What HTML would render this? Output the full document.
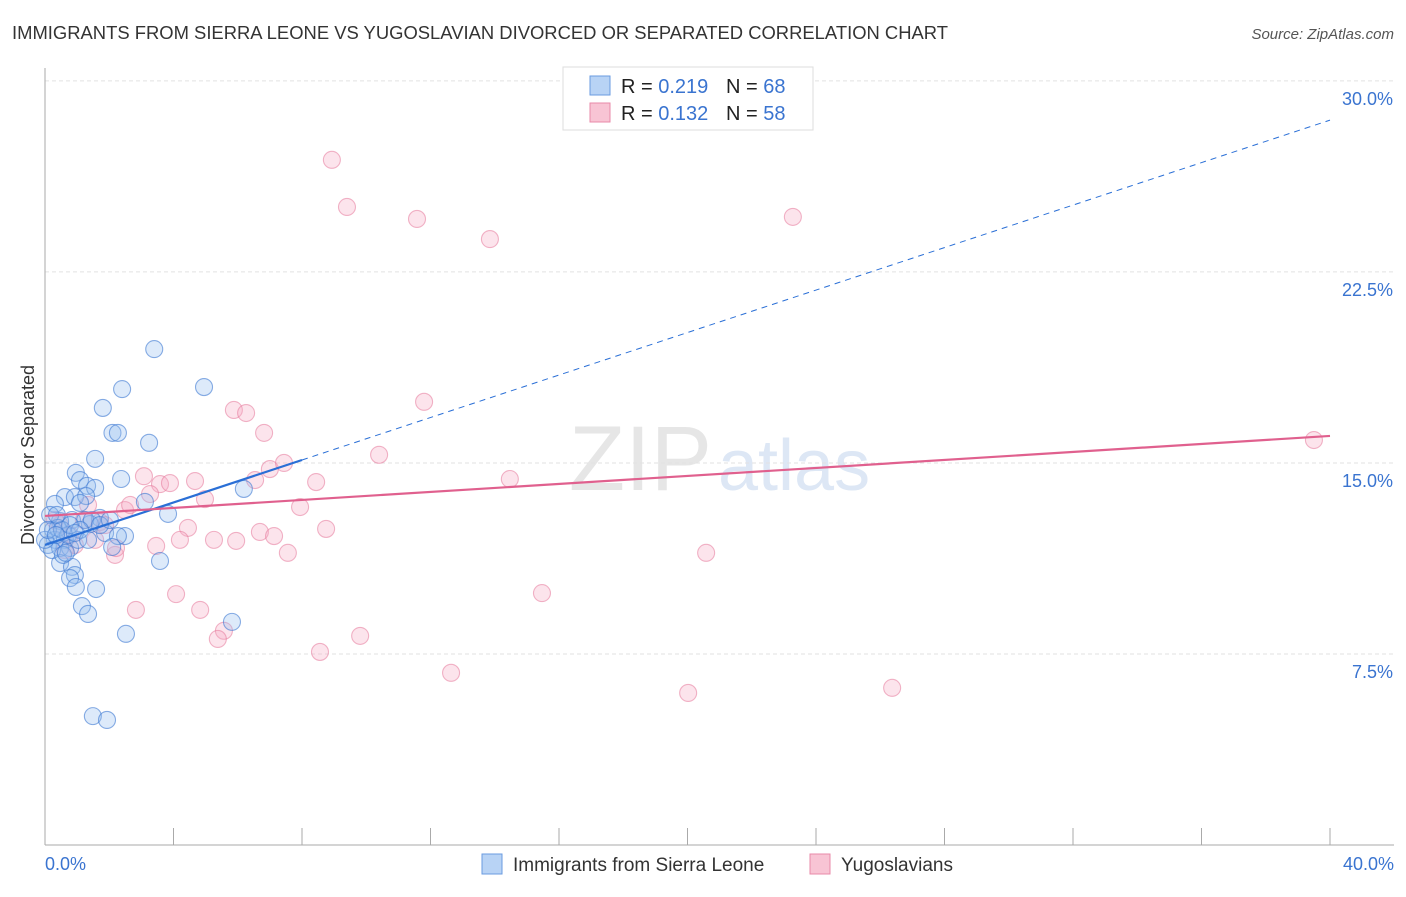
<!DOCTYPE html>
<html><head><meta charset="utf-8"><style>
body{margin:0;background:#fff;font-family:"Liberation Sans",sans-serif;}
svg text{font-family:"Liberation Sans",sans-serif;}
</style></head><body>
<svg width="1406" height="892" xmlns="http://www.w3.org/2000/svg">
<text x="12" y="39" font-size="18" fill="#333" textLength="936" lengthAdjust="spacingAndGlyphs">IMMIGRANTS FROM SIERRA LEONE VS YUGOSLAVIAN DIVORCED OR SEPARATED CORRELATION CHART</text>
<text x="1394" y="39" font-size="15" fill="#555" font-style="italic" text-anchor="end">Source: ZipAtlas.com</text>
<text x="712" y="490" font-size="92" fill="#e6e6e6" text-anchor="end" font-family="Liberation Serif">ZIP</text>
<text x="718" y="490" font-size="72" fill="#dde7f5">atlas</text>
<g id="grid"></g>
<g id="axes"></g>
<g id="marks"></g>
<text transform="translate(34,455) rotate(-90)" font-size="18" fill="#333" text-anchor="middle">Divorced or Separated</text>
<g>
<rect x="563" y="67" width="250" height="63" fill="#fff" stroke="#ddd"/>
<rect x="590" y="76" width="20" height="19" fill="#b8d3f5" stroke="#6a9be0"/>
<rect x="590" y="103" width="20" height="19" fill="#f8c4d4" stroke="#e88aa8"/>
<text x="621" y="93" font-size="20" fill="#222">R = <tspan fill="#3a74d0">0.219</tspan></text>
<text x="726" y="93" font-size="20" fill="#222">N = <tspan fill="#3a74d0">68</tspan></text>
<text x="621" y="120" font-size="20" fill="#222">R = <tspan fill="#3a74d0">0.132</tspan></text>
<text x="726" y="120" font-size="20" fill="#222">N = <tspan fill="#3a74d0">58</tspan></text>
</g>
<g>
<rect x="482" y="854" width="20" height="20" fill="#b8d3f5" stroke="#6a9be0"/>
<text x="513" y="871" font-size="19" fill="#333">Immigrants from Sierra Leone</text>
<rect x="810" y="854" width="20" height="20" fill="#f8c4d4" stroke="#e88aa8"/>
<text x="841" y="871" font-size="19" fill="#333">Yugoslavians</text>
</g>
</svg>
<script>
const yTicks=[7.5,15,22.5,30];
const yTickLabels=["7.5%","15.0%","22.5%","30.0%"];
const xEndLabels=["0.0%","40.0%"];
const blueX=[3.4,2.4,4.95,1.8,2.1,2.27,3.24,1.56,0.96,1.09,2.37,1.31,1.56,6.19,0.62,0.93,0.31,1.28,3.11,3.83,1.09,1.71,0.84,0.47,1.40,1.87,2.49,2.27,0.25,0.31,0.62,0.09,0.47,0.78,2.09,3.58,0.47,0.84,0.93,0.78,0.96,1.59,1.15,1.34,2.52,5.82,1.49,1.93,0.16,0.40,0.72,1.03,0.22,0.56,0.0,1.25,1.46,0.09,0.53,0.78,1.71,1.09,0.65,0.34,0.93,2.02,0.37,1.34];
const blueY=[19.47,17.90,17.98,17.16,16.18,16.18,15.79,15.16,14.61,14.33,14.37,14.10,14.02,13.98,13.66,13.66,13.39,13.70,13.47,13.0,13.43,12.84,12.76,12.72,12.60,12.25,12.13,12.13,12.37,11.98,11.98,11.78,11.66,11.66,11.70,11.15,11.07,10.92,10.60,10.48,10.13,10.05,9.38,9.07,8.29,8.76,5.06,4.91,12.96,12.45,12.17,11.98,11.58,11.39,11.98,12.76,12.76,12.37,12.37,12.56,12.56,12.37,11.47,12.17,12.25,12.76,12.96,11.98];
const pinkX=[8.93,9.40,11.58,13.85,23.28,11.80,5.88,6.26,6.82,39.5,10.4,3.08,7.0,7.44,3.58,3.89,4.67,8.44,14.47,3.27,4.98,6.54,7.94,1.34,2.49,2.65,1.21,1.71,4.45,8.75,6.69,7.13,3.46,4.20,5.26,5.95,7.56,2.18,2.21,20.58,4.08,15.47,2.83,4.83,5.57,5.38,9.81,8.56,12.64,20.02,26.37,0.47,0.78,0.31,0.93,0.62,1.56,1.87];
const pinkY=[26.9,25.05,24.58,23.79,24.66,17.4,17.08,16.96,16.18,15.90,15.32,14.48,14.76,15.0,14.17,14.21,14.29,14.25,14.37,13.78,13.58,14.33,13.27,13.35,13.15,13.35,12.76,12.68,12.45,12.41,12.29,12.13,11.74,11.98,11.98,11.94,11.47,11.39,11.66,11.47,9.85,9.89,9.23,9.23,8.41,8.09,8.21,7.58,6.76,5.97,6.17,12.56,12.17,12.76,11.78,11.58,11.98,12.56];
const blueTrend=[11.78,28.46];
const pinkTrend=[12.92,16.06];
const NS="http://www.w3.org/2000/svg";
const X=v=>45+v*32.125, Y=v=>845-v*25.47;
function mk(t,a,p){const e=document.createElementNS(NS,t);for(const k in a)e.setAttribute(k,a[k]);document.getElementById(p).appendChild(e);return e;}
yTicks.forEach((t,i)=>{
 const g=mk('line',{x1:45,x2:1394,y1:Y(t),y2:Y(t),stroke:'#e2e2e2','stroke-dasharray':'4,3'},'grid');
 
 
 const l=mk('text',{x:1393,y:Y(t)+24,'font-size':18,fill:'#3a74d0','text-anchor':'end'},'axes');
 l.textContent=yTickLabels[i];
 
 
});
const ya=mk('line',{x1:45,x2:45,y1:68,y2:845,stroke:'#aaa'},'axes');


const xa=mk('line',{x1:45,x2:1394,y1:845,y2:845,stroke:'#aaa'},'axes');


for(let i=1;i<=10;i++){
 const t=mk('line',{x1:X(i*4),x2:X(i*4),y1:828,y2:845,stroke:'#aaa'},'axes');
 
 
}
[[0,'start',45],[40,'end',1394]].forEach((d,i)=>{
 const l=mk('text',{x:d[2],y:870,'font-size':18,fill:'#3a74d0','text-anchor':d[1]},'axes');
 l.textContent=xEndLabels[i];
 
 
});
pinkX.forEach((x,i)=>{
 const c=mk('circle',{cx:X(x),cy:Y(pinkY[i]),r:8.5,fill:'rgba(246,170,195,0.32)',stroke:'rgba(230,120,155,0.55)','stroke-width':1.1},'marks');
 
 
});
blueX.forEach((x,i)=>{
 const c=mk('circle',{cx:X(x),cy:Y(blueY[i]),r:8.5,fill:'rgba(150,190,240,0.32)',stroke:'rgba(60,120,210,0.6)','stroke-width':1.1},'marks');
 
 
});
const bAt=v=>blueTrend[0]+(blueTrend[1]-blueTrend[0])*v/40;
const bs=mk('line',{x1:X(0),y1:Y(bAt(0)),x2:X(8),y2:Y(bAt(8)),stroke:'#2a6fd6','stroke-width':2.2},'marks');


const bd=mk('line',{x1:X(8),y1:Y(bAt(8)),x2:X(40),y2:Y(bAt(40)),stroke:'#2a6fd6','stroke-width':1,'stroke-dasharray':'6,5'},'marks');


const pl=mk('line',{x1:X(0),y1:Y(pinkTrend[0]),x2:X(40),y2:Y(pinkTrend[1]),stroke:'#e0608e','stroke-width':2.2},'marks');


</script>
</body></html>
